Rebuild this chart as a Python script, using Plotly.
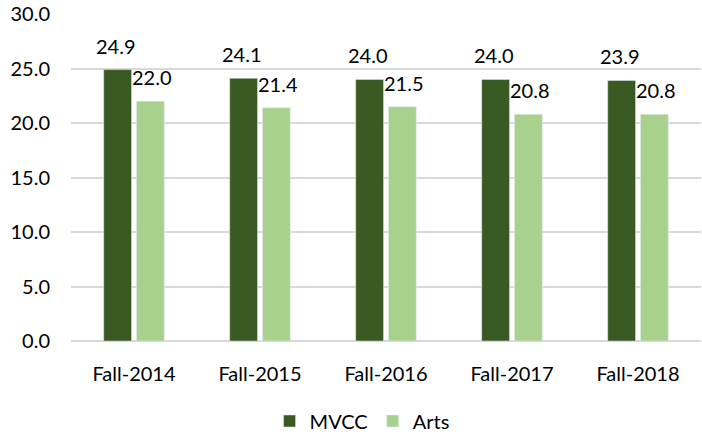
import plotly.graph_objects as go

categories = ["Fall-2014", "Fall-2015", "Fall-2016", "Fall-2017", "Fall-2018"]
mvcc = [24.9, 24.1, 24.0, 24.0, 23.9]
arts = [22.0, 21.4, 21.5, 20.8, 20.8]
series_names = ["MVCC", "Arts"]
tick_vals = [0, 5, 10, 15, 20, 25, 30]
tick_text = ["0.0", "5.0", "10.0", "15.0", "20.0", "25.0", "30.0"]

dark = "#3A5A24"
light = "#A9D18E"
font_family = "Lato, 'Open Sans', sans-serif"
fs = 20

fig = go.Figure()
fig.add_trace(go.Bar(x=categories, y=mvcc, name=series_names[0], marker_color=dark))
fig.add_trace(go.Bar(x=categories, y=arts, name=series_names[1], marker_color=light))

annotations = []
for vals, shift in [(mvcc, -18), (arts, 18)]:
    for c, v in zip(categories, vals):
        annotations.append(dict(
            x=c, y=v, text=f"{v:.1f}", showarrow=False,
            xshift=shift, yshift=24, xref="x", yref="y",
            font=dict(family=font_family, size=fs, color="#000000"),
        ))

fig.update_layout(
    width=702, height=434,
    margin=dict(l=71, r=1, t=14, b=93, autoexpand=False),
    paper_bgcolor="white", plot_bgcolor="white",
    barmode="group", bargap=0.48, bargroupgap=0.15,
    font=dict(family=font_family, size=fs, color="#000000"),
    annotations=annotations,
    showlegend=True,
    legend=dict(orientation="h", x=0.462, xanchor="center", y=-0.185, yanchor="top",
                font=dict(size=fs), itemwidth=30, traceorder="normal"),
    xaxis=dict(showline=False, ticks="", tickfont=dict(size=fs),
               ticklabelstandoff=19, automargin=False),
    yaxis=dict(range=[0, 30], tickvals=tick_vals, ticktext=tick_text,
               showgrid=True, gridcolor="#D9D9D9", gridwidth=2,
               zeroline=True, zerolinecolor="#D9D9D9", zerolinewidth=2,
               ticks="", ticklabelstandoff=20, tickfont=dict(size=fs),
               automargin=False),
)

fig.write_html("out.html", config={"displayModeBar": False},
               post_script="document.body.style.margin='0';")
